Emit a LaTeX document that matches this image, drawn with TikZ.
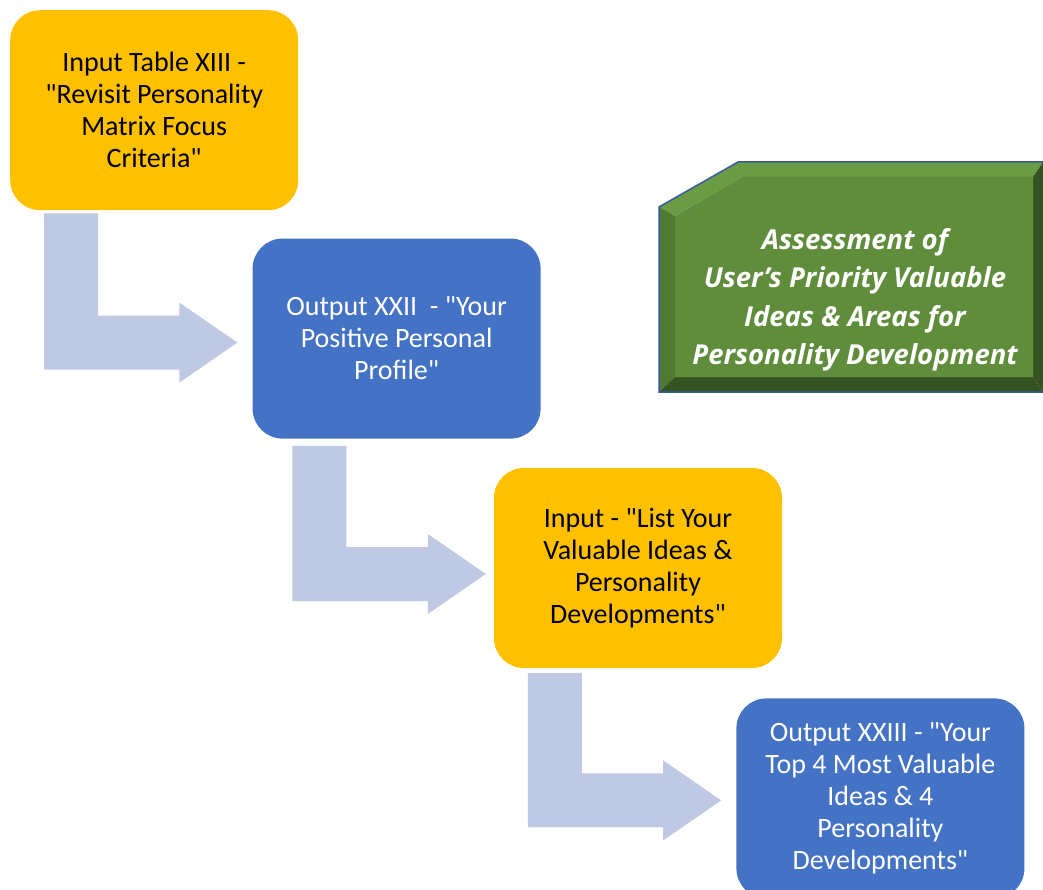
\documentclass[tikz,border=0pt]{standalone}
\usepackage{fontspec}
\setmainfont{Carlito}[Ligatures=TeXOff]
\newfontfamily\goalfont{Open Sans}
\usetikzlibrary{calc,positioning,backgrounds}
\definecolor{boxorange}{RGB}{255,192,0}
\definecolor{boxblue}{RGB}{68,114,196}
\definecolor{arrowgrey}{RGB}{191,201,228}
\definecolor{goalmain}{RGB}{95,141,60}
\definecolor{goaltop}{RGB}{106,156,68}
\definecolor{goalleft}{RGB}{80,122,50}
\definecolor{goaldark}{RGB}{53,82,34}
\tikzset{
  inputbox/.style={
      fill=boxorange,
      rounded corners=30pt,
      minimum width=288pt,
      minimum height=200pt,
      align=center,
      text=black,
      font=\fontsize{28}{32}\selectfont,
  },
  outputbox/.style={
      inputbox,
      fill=boxblue,
      text=white,
  },
  arrowfill/.style={
      fill=arrowgrey,
  },
  goaltext/.style={
      align=center,
      text=white,
      font=\goalfont\bfseries\itshape\fontsize{27.5}{38.5}\selectfont,
  },
}
% bent block arrow from the foot of one box to the side of the next
% #3: shift of the shaft start, #4: shift of the tip
\newcommand{\stepArrow}[4]{%
  \fill[arrowfill] let \p1 = ($(#1.south west)+(#3)$), \p2 = ($(#2.west)+(#4)$) in
    (\x1,\y1) -- (\x1+54pt,\y1) -- (\x1+54pt,\y2+27pt) -- (\x2-58pt,\y2+27pt)
    -- (\x2-58pt,\y2+40pt) -- (\x2,\y2) -- (\x2-58pt,\y2-40pt)
    -- (\x2-58pt,\y2-27pt) -- (\x1,\y2-27pt) -- cycle;}

\begin{document}
\begin{tikzpicture}[x=1pt,y=-1pt]
  \useasboundingbox (0,0) rectangle (1043,890);
  \clip (0,0) rectangle (1043,890);
  \node[inputbox,anchor=north west] (in1) at (10,10)
    {Input Table XIII -\\"Revisit Personality\\Matrix Focus\\Criteria"};
  \node[outputbox,below right=28pt and -46pt of in1.south east,anchor=north west] (out1)
    {Output XXII \ - "Your\\Positive Personal\\Profile"};
  \node[inputbox,below right=29pt and -47pt of out1.south east,anchor=north west] (in2)
    {Input - "List Your\\Valuable Ideas \&\\Personality\\Developments"};
  \node[outputbox,below right=30pt and -46pt of in2.south east,anchor=north west] (out2)
    {Output XXIII - "Your\\Top 4 Most Valuable\\Ideas \& 4\\Personality\\Developments"};
  \stepArrow{in1}{out1}{34,3}{-15,4}
  \stepArrow{out1}{in2}{40,7}{-8,6}
  \stepArrow{in2}{out2}{34,5}{-15,2}
  % bevelled title panel
  \node[goaltext] (goal) at (855,300)
    {Assessment of\\User’s Priority Valuable\\Ideas \& Areas for\\Personality Development};
  \begin{scope}[on background layer]
    \fill[goaltop] (659,207) -- (738,162) -- (1043,162) -- (1033,177) -- (742,177) -- (675,216) -- cycle;
    \fill[goalleft] (659,207) -- (675,216) -- (675,377) -- (659,392) -- cycle;
    \fill[goaldark] (1043,162) -- (1043,392) -- (1033,377) -- (1033,177) -- cycle;
    \fill[goaldark] (659,392) -- (675,377) -- (1033,377) -- (1043,392) -- cycle;
    \fill[goalmain] (675,216) -- (742,177) -- (1033,177) -- (1033,377) -- (675,377) -- cycle;
    \draw[boxblue!80!black,line width=1.5pt] (1043,392) -- (659,392) -- (659,207) -- (738,162) -- (1043,162);
  \end{scope}
\end{tikzpicture}
\end{document}
